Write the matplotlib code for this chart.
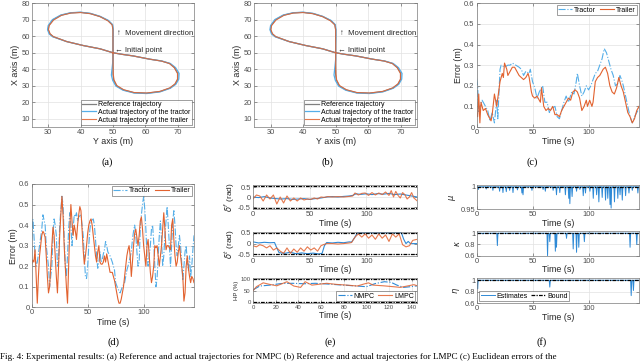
import numpy as np
import matplotlib.pyplot as plt

plt.rcParams['font.family'] = ['Liberation Sans', 'DejaVu Sans']
plt.rcParams['mathtext.fontset'] = 'dejavusans'

# ---- trajectory (Y axis, X axis) in metres
ref_y = [50, 50, 50, 50, 49.8, 48.5, 46, 43, 40, 37, 34, 31.5, 30.2, 30, 30.5, 31.5, 35.7, 40.8, 46, 50,
         53, 56.2, 61.4, 65, 67.5, 69, 70, 70, 69.2, 67.6, 64.5, 60.4, 56.5, 53.2, 51.1, 50.2, 50, 50, 50, 50]
ref_x = [50, 55, 60, 64, 67, 69.5, 72, 73.8, 74.5, 74.2, 72.8, 70, 66.5, 64, 61.5, 59.8, 56.8, 54.4, 52.4, 50,
         49, 48.1, 46.1, 45, 43.5, 41, 37.5, 34, 31, 28.6, 26.5, 25.5, 25.8, 27.5, 30, 33.5, 37, 42, 46, 50]
tractor_y = [50, 50, 50.1, 50.1, 49.9, 48.6, 46, 43, 40, 37, 33.9, 31.3, 30, 29.8, 30.3, 31.4, 35.7, 40.8, 46, 50,
             53, 56.2, 61.4, 65.1, 67.7, 69.3, 70.4, 70.3, 69.4, 67.7, 64.5, 60.4, 56.5, 53.1, 50.9, 49.9, 49.5, 49.8, 50, 50]
tractor_x = [50, 55, 60, 64, 67, 69.6, 72.1, 73.9, 74.6, 74.3, 72.9, 70.1, 66.5, 64, 61.4, 59.7, 56.8, 54.4, 52.4, 50,
             49, 48.1, 46.1, 45, 43.5, 41, 37.5, 34, 30.9, 28.5, 26.3, 25.3, 25.6, 27.3, 29.8, 33.3, 36.5, 42, 46, 50]
trailer_y = [50, 50, 50, 50, 49.7, 48.4, 46, 43, 40, 37, 34.1, 31.7, 30.3, 30.1, 30.6, 31.6, 35.7, 40.8, 46, 50,
             53, 56.2, 61.4, 64.9, 67.4, 68.9, 69.9, 69.9, 69.1, 67.5, 64.5, 60.4, 56.5, 53.3, 51.2, 50.3, 50.1, 50, 50, 50]
trailer_x = [50, 55, 60, 64, 67, 69.4, 71.9, 73.7, 74.4, 74.1, 72.7, 69.9, 66.5, 64, 61.5, 59.8, 56.8, 54.4, 52.4, 50,
             49, 48.1, 46.1, 45, 43.5, 41, 37.5, 34, 31.1, 28.7, 26.6, 25.6, 25.9, 27.6, 30.1, 33.6, 37, 42, 46, 50]

# ---- (c) NMPC errors (time s, error m)
c_tractor = [(0, 0.236), (1, 0.2), (2, 0.07), (3, 0.1), (5, 0.13), (8, 0.1), (10, 0.08), (12, 0.03), (14, 0.07),
             (16, 0.02), (18, 0.13), (19, 0.04), (21, 0.28), (22, 0.30), (25, 0.29), (28, 0.30), (30, 0.30),
             (32, 0.31), (35, 0.30), (38, 0.29), (40, 0.28), (42, 0.25), (44, 0.27), (47, 0.26), (48, 0.28),
             (50, 0.22), (52, 0.19), (54, 0.14), (56, 0.17), (58, 0.19), (59, 0.20), (61, 0.12), (63, 0.12),
             (65, 0.07), (67, 0.09), (70, 0.10), (72, 0.05), (74, 0.04), (76, 0.08), (78, 0.12), (80, 0.15),
             (82, 0.12), (85, 0.17), (87, 0.16), (89, 0.22), (90, 0.26), (92, 0.20), (94, 0.15), (96, 0.17),
             (98, 0.20), (100, 0.18), (102, 0.20), (104, 0.23), (106, 0.26), (108, 0.27), (110, 0.30), (112, 0.33),
             (114, 0.38), (116, 0.36), (118, 0.32), (120, 0.28), (122, 0.25), (124, 0.20), (126, 0.21), (128, 0.25),
             (130, 0.22), (131, 0.20), (133, 0.15), (135, 0.10), (137, 0.05), (139, 0.02), (141, 0.05), (143, 0.07),
             (145, 0.09)]
c_trailer = [(0, 0.07), (1, 0.05), (2, 0.16), (3, 0.02), (4, 0.12), (6, 0.08), (8, 0.09), (10, 0.06), (12, 0.04),
             (13, 0.03), (14, 0.06), (16, 0.16), (18, 0.10), (19, 0.14), (21, 0.22), (23, 0.26), (24, 0.24),
             (25, 0.31), (27, 0.28), (28, 0.25), (30, 0.27), (32, 0.29), (34, 0.29), (36, 0.27), (38, 0.25),
             (40, 0.24), (42, 0.23), (44, 0.24), (46, 0.26), (47, 0.24), (49, 0.17), (50, 0.15), (52, 0.14),
             (54, 0.15), (56, 0.13), (57, 0.12), (58, 0.19), (60, 0.10), (62, 0.08), (64, 0.09), (66, 0.08),
             (68, 0.10), (70, 0.06), (72, 0.06), (74, 0.05), (76, 0.08), (78, 0.10), (80, 0.12), (82, 0.14),
             (84, 0.13), (86, 0.17), (88, 0.18), (90, 0.17), (92, 0.14), (94, 0.08), (96, 0.10), (98, 0.13),
             (99, 0.10), (101, 0.13), (103, 0.10), (104, 0.12), (106, 0.22), (108, 0.24), (110, 0.25), (113, 0.28),
             (115, 0.29), (117, 0.26), (119, 0.20), (121, 0.17), (123, 0.16), (125, 0.19), (127, 0.24), (129, 0.20),
             (131, 0.17), (133, 0.12), (135, 0.07), (137, 0.05), (139, 0.02), (141, 0.04), (143, 0.08), (145, 0.10)]

# ---- (d) LMPC errors
d_tractor = [(0, 0.33), (1, 0.43), (2, 0.35), (3, 0.25), (4, 0.2), (5, 0.22), (7, 0.3), (9, 0.38), (10, 0.45),
             (12, 0.4), (13, 0.3), (14, 0.25), (15, 0.2), (16, 0.1), (17, 0.15), (18, 0.2), (19, 0.35), (20, 0.43),
             (21, 0.4), (22, 0.35), (23, 0.2), (24, 0.22), (25, 0.4), (26, 0.47), (27, 0.54), (28, 0.5), (29, 0.35),
             (30, 0.2), (31, 0.15), (32, 0.25), (33, 0.38), (34, 0.46), (35, 0.4), (36, 0.3), (37, 0.38), (38, 0.45),
             (39, 0.44), (40, 0.46), (41, 0.42), (42, 0.44), (44, 0.45), (46, 0.35), (47, 0.25), (48, 0.15),
             (49, 0.14), (50, 0.2), (51, 0.3), (52, 0.38), (53, 0.42), (55, 0.43), (56, 0.4), (57, 0.33), (58, 0.25),
             (59, 0.19), (60, 0.22), (61, 0.27), (62, 0.22), (63, 0.23), (64, 0.26), (65, 0.28), (66, 0.32),
             (67, 0.3), (68, 0.27), (70, 0.25), (72, 0.22), (74, 0.18), (75, 0.12), (77, 0.09), (79, 0.07),
             (81, 0.1), (83, 0.12), (85, 0.18), (87, 0.22), (89, 0.27), (90, 0.33), (91, 0.37), (92, 0.4),
             (93, 0.35), (94, 0.27), (95, 0.2), (96, 0.22), (97, 0.38), (98, 0.45), (99, 0.5), (100, 0.54),
             (101, 0.48), (102, 0.38), (103, 0.25), (104, 0.2), (106, 0.3), (107, 0.38), (108, 0.4), (109, 0.32),
             (110, 0.2), (111, 0.1), (112, 0.14), (113, 0.25), (114, 0.35), (115, 0.42), (116, 0.33), (117, 0.2),
             (118, 0.25), (119, 0.35), (120, 0.42), (121, 0.49), (122, 0.4), (123, 0.3), (124, 0.2), (125, 0.3),
             (126, 0.42), (127, 0.47), (128, 0.4), (129, 0.3), (130, 0.25), (131, 0.3), (132, 0.35), (133, 0.3),
             (134, 0.22), (135, 0.13), (136, 0.2), (137, 0.27), (138, 0.3), (139, 0.22), (140, 0.18), (141, 0.25),
             (142, 0.15), (143, 0.2), (144, 0.28), (145, 0.35)]
d_trailer = [(0, 0.21), (1, 0.23), (2, 0.22), (3, 0.28), (4, 0.15), (5, 0.02), (6, 0.15), (7, 0.25), (8, 0.3),
             (9, 0.35), (10, 0.37), (11, 0.36), (12, 0.34), (13, 0.25), (14, 0.15), (15, 0.07), (16, 0.1), (17, 0.2),
             (18, 0.3), (19, 0.39), (20, 0.35), (21, 0.25), (22, 0.15), (23, 0.07), (24, 0.2), (25, 0.35),
             (26, 0.45), (27, 0.54), (28, 0.45), (29, 0.3), (30, 0.2), (31, 0.1), (32, 0.02), (33, 0.2), (34, 0.38),
             (35, 0.5), (36, 0.42), (37, 0.35), (38, 0.4), (39, 0.37), (40, 0.33), (41, 0.4), (42, 0.45), (43, 0.49),
             (44, 0.47), (45, 0.38), (46, 0.28), (47, 0.21), (48, 0.25), (49, 0.3), (50, 0.36), (51, 0.4),
             (52, 0.42), (53, 0.43), (54, 0.4), (55, 0.35), (56, 0.3), (57, 0.25), (58, 0.22), (59, 0.27), (60, 0.3),
             (61, 0.22), (62, 0.21), (63, 0.21), (64, 0.22), (65, 0.25), (66, 0.22), (67, 0.26), (68, 0.23),
             (69, 0.2), (70, 0.17), (72, 0.17), (74, 0.13), (75, 0.1), (76, 0.07), (77, 0.04), (78, 0.02), (79, 0.02),
             (80, 0.04), (81, 0.07), (82, 0.1), (83, 0.15), (84, 0.2), (85, 0.25), (86, 0.28), (87, 0.3), (88, 0.25),
             (89, 0.15), (90, 0.22), (91, 0.3), (92, 0.36), (93, 0.38), (94, 0.34), (95, 0.3), (96, 0.35),
             (97, 0.42), (98, 0.44), (99, 0.38), (100, 0.3), (101, 0.25), (102, 0.2), (103, 0.3), (104, 0.33),
             (105, 0.25), (106, 0.17), (107, 0.12), (108, 0.15), (109, 0.2), (110, 0.3), (111, 0.29), (112, 0.3),
             (113, 0.25), (114, 0.2), (115, 0.25), (116, 0.3), (117, 0.38), (118, 0.46), (119, 0.38), (120, 0.28),
             (121, 0.3), (122, 0.3), (123, 0.29), (124, 0.28), (125, 0.4), (126, 0.43), (127, 0.33), (128, 0.25),
             (129, 0.2), (130, 0.22), (131, 0.27), (132, 0.3), (133, 0.25), (134, 0.2), (135, 0.15), (136, 0.03),
             (137, 0.07), (138, 0.2), (139, 0.25), (140, 0.19), (141, 0.15), (142, 0.12), (143, 0.15), (144, 0.14),
             (145, 0.12)]

# ---- (e) control inputs
front_nmpc = [(0, 0.0), (5, -0.03), (10, 0.02), (15, -0.05), (20, -0.08), (25, -0.1), (30, -0.08), (35, -0.12),
              (40, -0.1), (45, -0.08), (50, -0.12), (55, -0.08), (60, -0.05), (65, 0.0), (70, 0.02), (75, 0.0),
              (80, 0.03), (85, 0.05), (88, 0.08), (91, 0.16), (95, 0.13), (100, 0.16), (105, 0.12), (110, 0.17),
              (115, 0.14), (120, 0.18), (125, 0.12), (130, 0.15), (135, 0.1), (140, 0.05), (145, 0.0)]
front_lmpc = [(0, -0.1), (3, 0.1), (6, 0.05), (9, -0.2), (12, 0.1), (15, -0.1), (18, 0.1), (21, -0.35), (24, 0.0),
              (27, -0.3), (30, 0.05), (33, -0.2), (36, -0.05), (39, -0.2), (42, -0.05), (45, -0.15), (48, -0.1),
              (51, -0.12), (54, -0.05), (57, -0.1), (60, 0.0), (63, -0.02), (66, 0.02), (70, 0.0), (75, 0.02),
              (80, 0.0), (85, 0.03), (88, 0.05), (90, 0.2), (93, 0.1), (96, 0.18), (99, 0.2), (102, 0.08),
              (105, 0.22), (108, 0.1), (111, 0.2), (114, 0.12), (117, 0.25), (120, 0.08), (122, 0.32), (124, 0.0),
              (126, 0.28), (128, 0.08), (130, -0.05), (132, 0.22), (134, 0.12), (136, -0.1), (138, 0.0),
              (140, 0.22), (142, -0.05), (145, -0.2)]
rear_nmpc = [(0, 0.08), (5, 0.03), (10, 0.06), (15, 0.04), (19, 0.05), (21, -0.2), (23, -0.42), (28, -0.45),
             (33, -0.4), (38, -0.47), (43, -0.43), (48, -0.47), (53, -0.44), (58, -0.48), (61, -0.45),
             (63, -0.1), (65, 0.05), (70, 0.03), (75, 0.06), (80, 0.04), (85, 0.08), (87, 0.07), (90, 0.3),
             (92, 0.5), (100, 0.5), (110, 0.5), (120, 0.5), (131, 0.5), (133, 0.2), (135, 0.0), (137, 0.1),
             (139, 0.0), (145, 0.0)]
rear_lmpc = [(0, -0.1), (3, -0.15), (6, -0.05), (9, -0.1), (12, -0.2), (15, -0.1), (18, -0.3), (21, -0.2),
             (24, -0.35), (27, -0.45), (30, -0.2), (33, -0.45), (36, -0.25), (39, -0.4), (42, -0.2), (45, -0.35),
             (48, -0.15), (51, -0.3), (54, -0.2), (57, -0.35), (60, -0.1), (62, -0.05), (65, 0.0), (70, 0.0),
             (75, -0.02), (80, 0.0), (85, 0.03), (87, 0.05), (90, 0.3), (93, 0.45), (96, 0.3), (99, 0.45),
             (102, 0.25), (105, 0.4), (108, 0.2), (111, 0.45), (114, 0.25), (117, 0.4), (120, 0.1), (123, 0.45),
             (126, 0.3), (129, 0.45), (132, -0.05), (135, -0.15), (138, -0.1), (141, 0.15), (145, 0.2)]
hp_nmpc = [(0, 54), (6, 71), (15, 75), (25, 82), (35, 83), (45, 81), (55, 83), (65, 80), (80, 75), (92, 71),
           (100, 68), (108, 82), (116, 90), (122, 87), (127, 75), (133, 65), (139, 68), (145, 72)]
hp_lmpc = [(0, 50), (3, 68), (9, 85), (15, 78), (21, 72), (30, 90), (36, 71), (42, 65), (46, 90), (52, 75),
           (57, 78), (65, 83), (74, 78), (83, 75), (92, 71), (98, 80), (102, 85), (106, 75), (115, 72),
           (124, 68), (130, 65), (136, 71), (142, 77), (145, 72)]

# ---- (f) uncertainty estimates: (time, dip value)
mu_dips = [(1, 0.994), (8, 0.995), (14, 0.992), (20, 0.99), (23, 0.987), (26, 0.989), (29, 0.992), (32, 0.987),
           (36, 0.993), (40, 0.986), (41, 0.982), (49, 0.992), (59, 0.994), (61, 0.99), (68, 0.992), (71, 0.982),
           (74, 0.987), (79, 0.982), (82, 0.974), (83, 0.962), (85, 0.978), (89, 0.99), (92, 0.994), (95, 0.98),
           (97, 0.986), (101, 0.99), (104, 0.974), (107, 0.982), (109, 0.966), (112, 0.976), (115, 0.97),
           (117, 0.974), (119, 0.96), (120, 0.952), (123, 0.966), (126, 0.974), (128, 0.982), (130, 0.97),
           (133, 0.98), (136, 0.986), (139, 0.992), (144, 0.986)]
kappa_dips = [(5, 0.99), (18, 0.78), (40, 0.99), (63, 0.6), (65, 0.85), (70, 0.68), (71, 0.75), (80, 0.91),
              (86, 0.72), (89, 0.66), (91, 0.75), (96, 0.85), (110, 0.99), (137, 0.75), (143, 0.8)]
eta_dips = [(0.3, 0.85), (65, 0.88), (138, 0.73), (140, 0.82)]

BLUE = '#2f8ad6'
LBLUE = '#55aee8'
ORANGE = '#e2622f'
GRAY_TXT = '#262626'
W, H = 640, 362
TICK_FS = 5.4
LAB_FS = 6.4
LEG_FS = 5.0

fig = plt.figure(figsize=(6.4, 3.62), dpi=100)


def box(l, t, r, b):
    return fig.add_axes([l / W, 1 - b / H, (r - l) / W, (b - t) / H])


def style(ax, fs=TICK_FS):
    ax.grid(True, color='#e2e2e2', lw=0.5)
    ax.set_axisbelow(True)
    ax.tick_params(direction='in', length=2, width=0.4, labelsize=fs, colors='#4d4d4d',
                   pad=1.5, top=True, right=True)
    for s in ax.spines.values():
        s.set_color('#7a7a7a')
        s.set_linewidth(0.5)


def legend(ax, **kw):
    leg = ax.legend(fontsize=LEG_FS, handlelength=2.0, borderpad=0.2, labelspacing=0.1, columnspacing=0.5,
                    handletextpad=0.3, borderaxespad=0.3, fancybox=False, **kw)
    leg.get_frame().set_edgecolor('#555555')
    leg.get_frame().set_linewidth(0.5)


def unpack(pairs):
    return [p[0] for p in pairs], [p[1] for p in pairs]


def dips(events):
    t, v = [0], [1.0]
    for ts, d in events:
        t += [max(ts - 0.5, 0), ts, ts + 0.5]
        v += [1.0, d, 1.0]
    t.append(145)
    v.append(1.0)
    return t, v


def caption(x, y, s):
    fig.text(x / W, 1 - y / H, s, ha='center', va='center', fontsize=7.5,
             family='Liberation Serif')


# ---- (a), (b) trajectories
for l, r, lab, cx in [(32, 194, '(a)', 107), (254.3, 417, '(b)', 328)]:
    ax = box(l, 3.3, r, 127)
    style(ax)
    ax.plot(ref_y, ref_x, color='#7f7f7f', lw=0.9, label='Reference trajectory')
    ax.plot(tractor_y, tractor_x, color=LBLUE, lw=0.9, label='Actual trajectory of the tractor')
    ax.plot(trailer_y, trailer_x, color=ORANGE, lw=0.8, alpha=0.85, label='Actual trajectory of the trailer')
    ax.set_xlim(25, 75)
    ax.set_ylim(5, 80)
    ax.set_xticks([30, 40, 50, 60, 70])
    ax.set_yticks([10, 20, 30, 40, 50, 60, 70, 80])
    ax.set_xlabel('Y axis (m)', fontsize=LAB_FS, color=GRAY_TXT, labelpad=1)
    ax.set_ylabel('X axis (m)', fontsize=LAB_FS, color=GRAY_TXT, labelpad=1)
    ax.text(51.2, 60.5, '\u2191  Movement direction', fontsize=5.6, color=GRAY_TXT)
    ax.text(50.6, 50.2, '\u2190 Initial point', fontsize=5.6, color=GRAY_TXT)
    legend(ax, loc='lower right')
    caption(cx, 162, lab)

# ---- (c), (d) errors
for (l, t, r, b), tr, tl, lab, cx, cy in [((476.5, 3.3, 639, 127), c_tractor, c_trailer, '(c)', 532, 162),
                                          ((31.7, 184, 194, 307.3), d_tractor, d_trailer, '(d)', 113, 342)]:
    ax = box(l, t, r, b)
    style(ax)
    x1, y1 = unpack(tr)
    x2, y2 = unpack(tl)
    ax.plot(x1, y1, color=LBLUE, lw=0.8, ls='-.', label='Tractor')
    ax.plot(x2, y2, color=ORANGE, lw=0.8, label='Trailer')
    ax.set_xlim(0, 145)
    ax.set_ylim(0, 0.6)
    ax.set_xticks([0, 50, 100])
    ax.set_yticks([0, 0.1, 0.2, 0.3, 0.4, 0.5, 0.6])
    ax.set_yticklabels(['0', '0.1', '0.2', '0.3', '0.4', '0.5', '0.6'])
    ax.set_xlabel('Time (s)', fontsize=LAB_FS, color=GRAY_TXT, labelpad=1)
    ax.set_ylabel('Error (m)', fontsize=LAB_FS, color=GRAY_TXT, labelpad=1)
    legend(ax, loc='upper right', ncol=2)
    caption(cx, cy, lab)

BOUND = dict(color='k', lw=0.9, ls=(0, (3, 1, 1, 1)))

# ---- (e) steering and HP
e_rows = [(185, 209, front_nmpc, front_lmpc, r'$\delta^f$ (rad)', (-0.6, 0.6), [-0.55, 0.55], [-0.5, 0, 0.5]),
          (231.5, 255.7, rear_nmpc, rear_lmpc, r'$\delta^t$ (rad)', (-0.56, 0.56), [-0.5, 0.5], [-0.5, 0, 0.5]),
          (278.3, 303.3, hp_nmpc, hp_lmpc, 'HP (%)', (-5, 105), [0, 100], [0, 50, 100])]
for i, (t, b, nm, lm, ylab, ylim, bounds, yt) in enumerate(e_rows):
    ax = box(253, t, 417.3, b)
    style(ax, fs=TICK_FS if i < 2 else 4.3)
    x1, y1 = unpack(nm)
    x2, y2 = unpack(lm)
    ax.plot(x1, y1, color=BLUE, lw=0.8, ls='-.' if i == 2 else '-', label='NMPC')
    ax.plot(x2, y2, color=ORANGE, lw=0.8, alpha=0.85, label='LMPC')
    for yb in bounds:
        ax.axhline(yb, **BOUND)
    ax.set_xlim(0, 145)
    ax.set_ylim(*ylim)
    ax.set_yticks(yt)
    ax.set_yticklabels([f'{v:g}' for v in yt])
    if i < 2:
        ax.set_xticks([0, 50, 100])
        ax.set_ylabel(ylab, fontsize=6.0, color=GRAY_TXT, labelpad=1)
    else:
        ax.set_xticks(range(0, 150, 20))
        ax.set_ylabel(ylab, fontsize=4.3, color=GRAY_TXT, labelpad=1)
        legend(ax, loc='lower right', ncol=2)
    ax.set_xlabel('Time (s)', fontsize=LAB_FS, color=GRAY_TXT, labelpad=0.5)
caption(330, 342, '(e)')

# ---- (f) estimates
f_rows = [(185, 209, mu_dips, r'$\mu$', (0.95, 1.004), [0.95, 1], ['0.95', '1']),
          (231, 255.7, kappa_dips, r'$\kappa$', (0.6, 1.04), [0.6, 0.8, 1], ['0.6', '0.8', '1']),
          (278, 303, eta_dips, r'$\eta$', (0.6, 1.04), [0.6, 0.8, 1], ['0.6', '0.8', '1'])]
for i, (t, b, ev, ylab, ylim, yt, ytl) in enumerate(f_rows):
    ax = box(477.3, t, 639, b)
    style(ax)
    xs, ys = dips(ev)
    ax.plot(xs, ys, color=BLUE, lw=0.7, label='Estimates')
    ax.axhline(1, label='Bound', **BOUND)
    ax.set_xlim(0, 145)
    ax.set_ylim(*ylim)
    ax.set_yticks(yt)
    ax.set_yticklabels(ytl)
    ax.set_xticks([0, 50, 100])
    ax.set_ylabel(ylab, fontsize=6.0, color=GRAY_TXT, labelpad=2)
    ax.set_xlabel('Time (s)', fontsize=LAB_FS, color=GRAY_TXT, labelpad=0.5)
    if i == 2:
        legend(ax, loc='lower left', ncol=2)
caption(542, 342, '(f)')

fig.text(0.0, 0.002,
         'Fig. 4: Experimental results: (a) Reference and actual trajectories for NMPC (b) Reference and actual '
         'trajectories for LMPC (c) Euclidean errors of the',
         ha='left', va='bottom', fontsize=6.6, family='Liberation Serif')

fig.savefig('out.png', dpi=100)
